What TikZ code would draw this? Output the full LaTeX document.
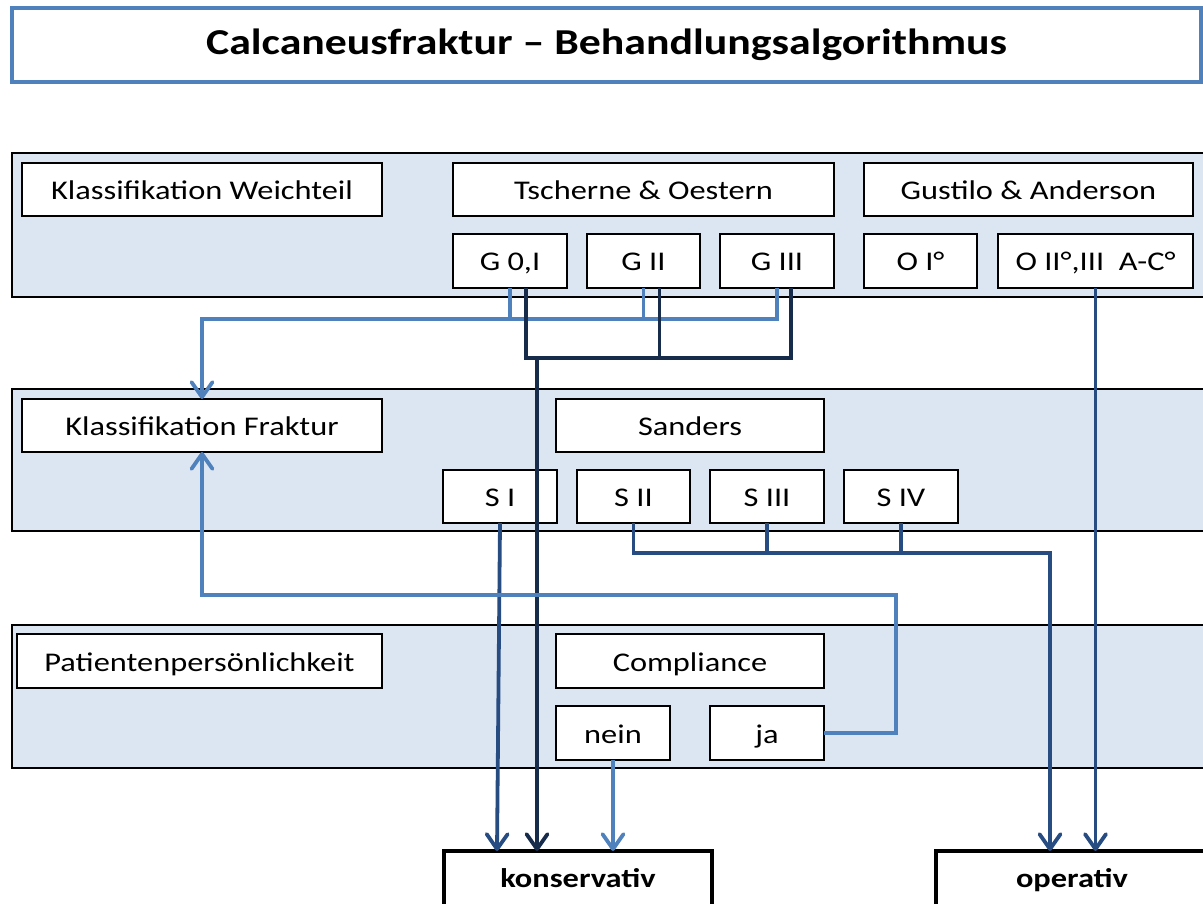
\documentclass[tikz,border=0pt]{standalone}
\usepackage{fontspec}
\setmainfont[FakeStretch=1.2]{Carlito}
\usetikzlibrary{arrows.meta}
\definecolor{bandfill}{RGB}{220,230,242}
\definecolor{lightblue}{RGB}{79,129,189}
\definecolor{darknavy}{RGB}{23,43,75}
\definecolor{midblue}{RGB}{38,76,130}
\tikzset{
  band/.style={draw=black, line width=1.8pt, fill=bandfill, anchor=north west, inner sep=0pt, outer sep=0pt},
  box/.style={draw=black, line width=1.8pt, fill=white, anchor=north west, inner sep=0pt, outer sep=0pt,
    text height=21pt, text depth=1pt, font=\fontsize{27}{32}\selectfont},
  endbox/.style={draw=black, line width=4.5pt, fill=white, anchor=north west, inner sep=0pt, outer sep=0pt,
    text height=21pt, text depth=1pt, font=\fontsize{27}{32}\selectfont\bfseries},
  titlebox/.style={draw=lightblue, line width=3.5pt, fill=white, anchor=north west, inner sep=0pt, outer sep=0pt},
  titletext/.style={font=\fontsize{36.5}{44}\selectfont\bfseries},
  tip/.style={-{Straight Barb[length=15pt,width=21pt,round]}},
  lightline/.style={draw=lightblue, line width=3.8pt},
  darkline/.style={draw=darknavy, line width=3.8pt},
  midline/.style={draw=midblue, line width=3.8pt},
}
\begin{document}
\begin{tikzpicture}[x=1pt,y=-1pt]
\clip (0,0) rectangle (1203,904);
\fill[white] (0,0) rectangle (1203,904);
% title
\node[titlebox, minimum width=1189, minimum height=74] (title) at (12,8) {};
\node[titletext] (titletxt) at (title.center) {Calcaneusfraktur – Behandlungsalgorithmus};
% bands
\node[band, minimum width=1194, minimum height=144] (band1) at (12,153) {};
\node[band, minimum width=1194, minimum height=142] (band2) at (12,389) {};
\node[band, minimum width=1194, minimum height=143] (band3) at (12,625) {};
% band 1
\node[box, minimum width=360, minimum height=53] (kw) at (22,163) {Klassifikation Weichteil};
\node[box, minimum width=381, minimum height=53] (ts) at (453,163) {Tscherne \& Oestern};
\node[box, minimum width=329, minimum height=53] (ga) at (864,163) {Gustilo \& Anderson};
\node[box, minimum width=114, minimum height=54] (g0) at (453,234) {G 0,I};
\node[box, minimum width=113, minimum height=54] (g2) at (587,234) {G II};
\node[box, minimum width=114, minimum height=54] (g3) at (720,234) {G III};
\node[box, minimum width=113, minimum height=54] (o1) at (864,234) {O I°};
\node[box, minimum width=195, minimum height=54] (o2) at (998,234) {O II°,III~~A-C°};
% band 2
\node[box, minimum width=360, minimum height=53] (kf) at (22,399) {Klassifikation Fraktur};
\node[box, minimum width=268, minimum height=53] (sa) at (556,399) {Sanders};
\node[box, minimum width=114, minimum height=53] (s1) at (443,470) {S I};
\node[box, minimum width=113, minimum height=53] (s2) at (577,470) {S II};
\node[box, minimum width=114, minimum height=53] (s3) at (710,470) {S III};
\node[box, minimum width=114, minimum height=53] (s4) at (844,470) {S IV};
% band 3
\node[box, minimum width=365, minimum height=54] (pp) at (17,634) {Patientenpersönlichkeit};
\node[box, minimum width=268, minimum height=54] (co) at (556,634) {Compliance};
\node[box, minimum width=114, minimum height=54] (ne) at (556,706) {nein};
\node[box, minimum width=114, minimum height=54] (ja) at (710,706) {ja};
% outcomes
\node[endbox, minimum width=268, minimum height=66] (kons) at (444,851) {\raisebox{7pt}{konservativ}};
\node[endbox, minimum width=272, minimum height=66] (op) at (936,851) {\raisebox{7pt}{operativ}};
% junction coordinates
\coordinate (lj) at (0,319);
\coordinate (dj) at (537,358);
\coordinate (sj) at (1050,553);
\coordinate (jr) at (896,595);
% light blue from G boxes to Klassifikation Fraktur
\draw[lightline] (g0.south) -- (g0.south |- lj);
\draw[lightline] (g2.south) -- (g2.south |- lj);
\draw[lightline, tip] (g3.south) -- (g3.south |- lj) -| (kf.north);
% dark navy from G boxes to konservativ
\draw[darkline] ([xshift=16pt]g2.south) -- ([xshift=16pt]g2.south |- dj);
\draw[darkline] ([xshift=16pt]g0.south) |- (dj) -| ([xshift=14pt]g3.south);
\draw[darkline, tip] (dj) -- (dj |- kons.north);
% S I to konservativ
\draw[midline, tip] (s1.south) -- ([xshift=-3pt]s1.south |- kons.north);
% S II-IV to operativ
\draw[midline] (s3.south) -- (s3.south |- sj);
\draw[midline] (s4.south) -- (s4.south |- sj);
\draw[midline, tip] (s2.south) |- (sj) -- (sj |- op.north);
% O II/III to operativ
\draw[midline, tip] (o2.south) -- (o2.south |- op.north);
% nein to konservativ
\draw[lightline, tip] (ne.south) -- (ne.south |- kons.north);
% ja back to Klassifikation Fraktur
\draw[lightline, tip] (ja.east) -| (jr) -| (kf.south);
\end{tikzpicture}
\end{document}
